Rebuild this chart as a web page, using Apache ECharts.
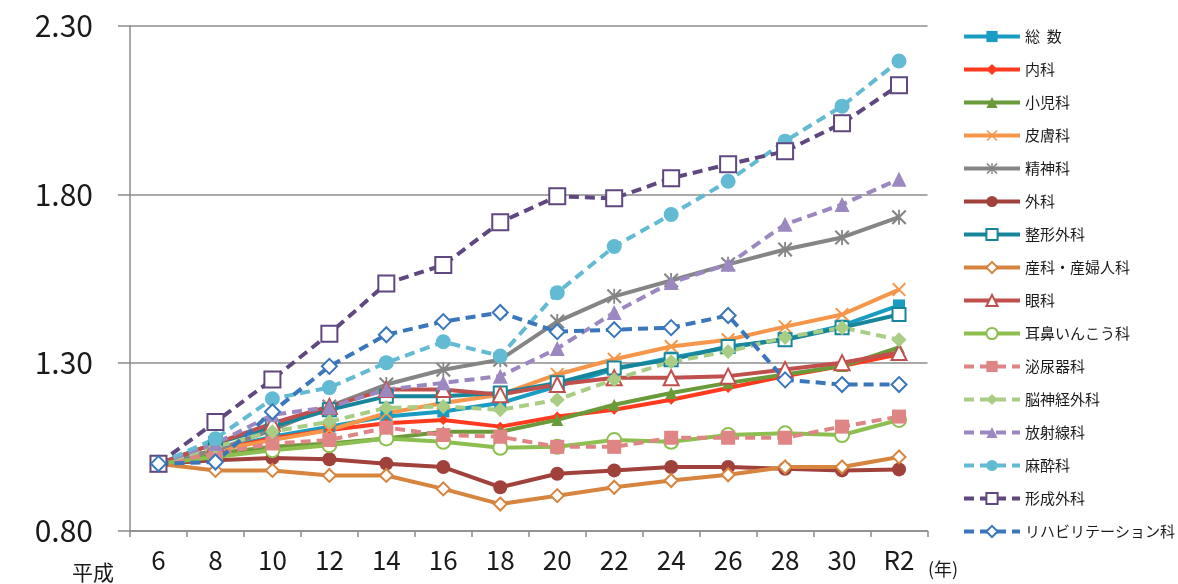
<!DOCTYPE html>
<html>
<head>
<meta charset="utf-8">
<script src="https://cdn.jsdelivr.net/npm/echarts@6/dist/echarts.min.js"></script>
<style>
  html, body { margin: 0; padding: 0; background: #fff; }
  #chart { width: 1178px; height: 584px; }
</style>
</head>
<body>
<div id="chart"></div>
<script>
// 年次（平成6年〜令和2年）
const categories = ['6', '8', '10', '12', '14', '16', '18', '20', '22', '24', '26', '28', '30', 'R2'];
const yTicks = [0.80, 1.30, 1.80, 2.30];

// 診療科別の指数（平成6年 = 1.00）
const sousu     = [1.00, 1.04, 1.08, 1.11, 1.14, 1.155, 1.18, 1.23, 1.28, 1.315, 1.345, 1.37, 1.41, 1.47];
const naika     = [1.00, 1.04, 1.075, 1.10, 1.12, 1.13, 1.11, 1.14, 1.16, 1.19, 1.225, 1.26, 1.29, 1.325];
const shonika   = [1.00, 1.03, 1.05, 1.06, 1.075, 1.095, 1.095, 1.13, 1.175, 1.21, 1.24, 1.265, 1.29, 1.345];
const hifuka    = [1.00, 1.04, 1.07, 1.10, 1.15, 1.18, 1.205, 1.265, 1.31, 1.348, 1.368, 1.407, 1.443, 1.517];
const seishinka = [1.00, 1.04, 1.10, 1.17, 1.235, 1.279, 1.309, 1.422, 1.497, 1.544, 1.592, 1.636, 1.672, 1.732];
const geka      = [1.00, 1.01, 1.017, 1.013, 1.00, 0.99, 0.93, 0.97, 0.98, 0.99, 0.99, 0.985, 0.98, 0.983];
const seikei    = [1.00, 1.06, 1.11, 1.16, 1.20, 1.20, 1.21, 1.24, 1.284, 1.309, 1.348, 1.368, 1.404, 1.443];
const sanka     = [1.00, 0.98, 0.98, 0.965, 0.965, 0.925, 0.88, 0.905, 0.93, 0.95, 0.967, 0.99, 0.99, 1.02];
const ganka     = [1.00, 1.06, 1.12, 1.17, 1.22, 1.22, 1.205, 1.235, 1.255, 1.255, 1.26, 1.28, 1.30, 1.33];
const jibika    = [1.00, 1.02, 1.04, 1.055, 1.075, 1.065, 1.047, 1.05, 1.07, 1.065, 1.085, 1.09, 1.085, 1.13];
const hinyokika = [1.00, 1.03, 1.06, 1.07, 1.107, 1.085, 1.08, 1.05, 1.05, 1.077, 1.077, 1.077, 1.11, 1.14];
const noshinkei = [1.00, 1.05, 1.095, 1.125, 1.166, 1.17, 1.16, 1.19, 1.25, 1.303, 1.333, 1.375, 1.404, 1.368];
const hoshasen  = [1.00, 1.06, 1.145, 1.168, 1.22, 1.24, 1.26, 1.342, 1.449, 1.538, 1.592, 1.711, 1.77, 1.845];
const masui     = [1.00, 1.074, 1.193, 1.226, 1.30, 1.362, 1.32, 1.508, 1.645, 1.74, 1.839, 1.958, 2.062, 2.196];
const keisei    = [1.00, 1.124, 1.25, 1.386, 1.535, 1.59, 1.717, 1.794, 1.788, 1.848, 1.889, 1.928, 2.011, 2.124];
const riha      = [1.00, 1.005, 1.154, 1.289, 1.383, 1.422, 1.449, 1.392, 1.398, 1.404, 1.44, 1.249, 1.235, 1.235];

const FONT = '"Noto Sans CJK JP", "Noto Sans", sans-serif';
const CROSS = 'path://M0,1L1,0L10,9L9,10Z M9,0L10,1L1,10L0,9Z';
const STAR = 'path://M0,1L1,0L10,9L9,10Z M9,0L10,1L1,10L0,9Z M4.4,0L5.6,0L5.6,10L4.4,10Z';

const makeSeries = (name, data, color, symbol, size, dashed, hollow) => ({
  name: name,
  type: 'line',
  data: data,
  symbol: symbol,
  symbolSize: size,
  showAllSymbol: true,
  lineStyle: { color: color, width: 4, type: dashed ? [10, 6] : 'solid' },
  itemStyle: hollow
    ? { color: '#fff', borderColor: color, borderWidth: 2 }
    : { color: color, borderWidth: 0 },
  emphasis: { disabled: true }
});

const seriesList = [
  makeSeries('総  数', sousu, '#1a9cc2', 'rect', 12, false, false),
  makeSeries('内科', naika, '#ff3a1e', 'diamond', 10, false, false),
  makeSeries('小児科', shonika, '#6b9a3b', 'triangle', 12, false, false),
  makeSeries('皮膚科', hifuka, '#f5964a', CROSS, 14, false, false),
  makeSeries('精神科', seishinka, '#858585', STAR, 15, false, false),
  makeSeries('外科', geka, '#a0413c', 'circle', 14, false, false),
  makeSeries('整形外科', seikei, '#17859a', 'rect', 13, false, true),
  makeSeries('産科・産婦人科', sanka, '#d7843e', 'diamond', 13, false, true),
  makeSeries('眼科', ganka, '#c0504d', 'triangle', 15, false, true),
  makeSeries('耳鼻いんこう科', jibika, '#8cbf50', 'circle', 14, false, true),
  makeSeries('泌尿器科', hinyokika, '#df8585', 'rect', 14, true, false),
  makeSeries('脳神経外科', noshinkei, '#a9cd85', 'diamond', 15, true, false),
  makeSeries('放射線科', hoshasen, '#9c88c0', 'triangle', 15, true, false),
  makeSeries('麻酔科', masui, '#62bbd3', 'circle', 15, true, false),
  makeSeries('形成外科', keisei, '#5f4780', 'rect', 16, true, true),
  makeSeries('リハビリテーション科', riha, '#3a76bb', 'diamond', 15, true, true)
];

const myChart = echarts.init(document.getElementById('chart'), null, { renderer: 'canvas' });
myChart.setOption({
  animation: false,
  textStyle: { fontFamily: FONT },
  grid: {
    left: 130,
    right: 250.5,
    top: 26,
    bottom: 53
  },
  legend: {
    orient: 'vertical',
    left: 962,
    top: 29,
    padding: 0,
    itemWidth: 56,
    itemHeight: 14,
    itemGap: 18,
    lineStyle: { width: 4 },
    textStyle: { fontSize: 15, color: '#1a1a1a', lineHeight: 14, fontFamily: FONT },
    data: seriesList.map(s => s.name)
  },
  xAxis: {
    type: 'category',
    data: categories,
    boundaryGap: true,
    axisLine: { lineStyle: { color: '#8c8c8c', width: 1.5 } },
    axisTick: { show: true, length: 6, lineStyle: { color: '#8c8c8c', width: 1.5 } },
    axisLabel: { fontSize: 26, color: '#1a1a1a', margin: 16, fontFamily: FONT }
  },
  yAxis: {
    type: 'value',
    min: yTicks[0],
    max: yTicks[yTicks.length - 1],
    interval: 0.5,
    axisLine: { show: true, lineStyle: { color: '#8c8c8c', width: 1.5 } },
    axisTick: { show: true, length: 12, lineStyle: { color: '#8c8c8c', width: 1.5 } },
    axisLabel: {
      fontSize: 30,
      color: '#1a1a1a',
      margin: 37,
      fontFamily: FONT,
      formatter: v => v.toFixed(2)
    },
    splitLine: { lineStyle: { color: '#8c8c8c', width: 1.5 } }
  },
  graphic: [
    {
      type: 'text',
      left: 72,
      top: 562,
      style: { text: '平成', fontSize: 21, fill: '#1a1a1a', fontFamily: FONT }
    },
    {
      type: 'text',
      left: 928,
      top: 560,
      style: { text: '(年)', fontSize: 18, fill: '#1a1a1a', fontFamily: FONT }
    }
  ],
  series: seriesList
});
</script>
</body>
</html>
